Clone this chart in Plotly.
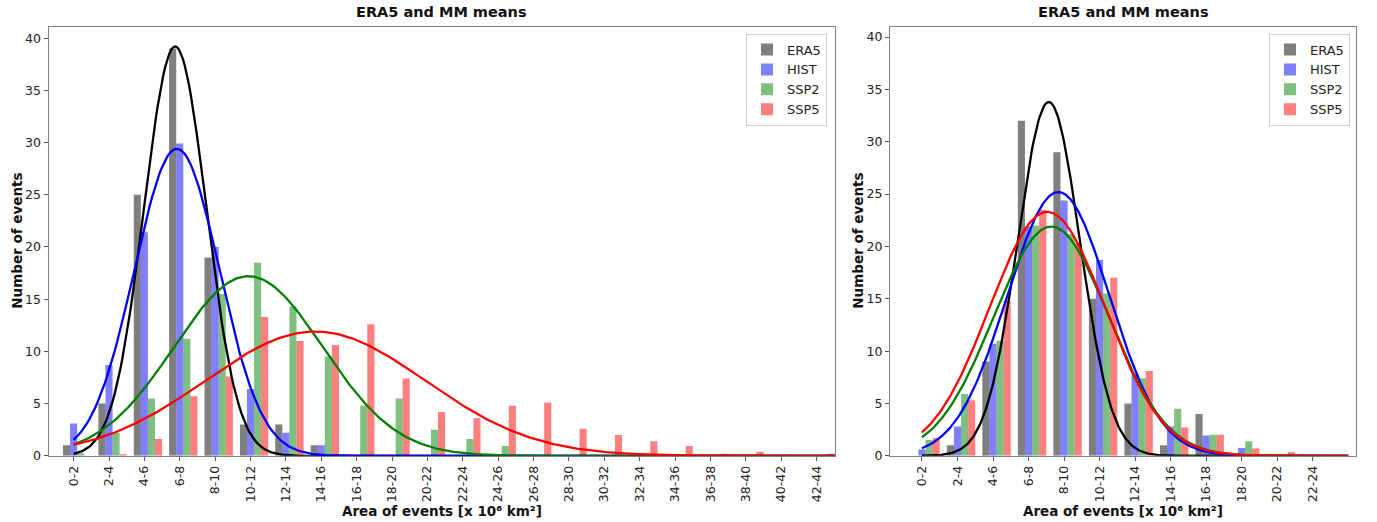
import numpy as np
import plotly.graph_objects as go

# ---------------- data ----------------
cats_left = ['0-2', '2-4', '4-6', '6-8', '8-10', '10-12', '12-14', '14-16', '16-18', '18-20',
             '20-22', '22-24', '24-26', '26-28', '28-30', '30-32', '32-34', '34-36', '36-38',
             '38-40', '40-42', '42-44']
era5_left = [1, 5, 25, 39, 19, 3, 3, 1, 0, 0, 0, 0, 0, 0, 0, 0, 0, 0, 0, 0, 0, 0]
hist_left = [3.1, 8.7, 21.4, 29.9, 20.0, 6.4, 2.2, 1.0, 0, 0, 0, 0, 0, 0, 0, 0, 0, 0, 0, 0, 0, 0]
ssp2_left = [0.25, 2.2, 5.5, 11.2, 15.5, 18.5, 14.3, 9.5, 4.8, 5.5, 2.5, 1.6, 0.95, 0, 0, 0, 0, 0,
             0, 0, 0, 0]
ssp5_left = [0, 0.15, 1.6, 5.7, 7.6, 13.3, 11.0, 10.6, 12.6, 7.4, 4.2, 3.6, 4.8, 5.1, 2.6, 2.0,
             1.4, 0.95, 0.2, 0.4, 0.05, 0.2]

cats_right = ['0-2', '2-4', '4-6', '6-8', '8-10', '10-12', '12-14', '14-16', '16-18', '18-20',
              '20-22', '22-24']
era5_right = [0, 1, 9, 32, 29, 15, 5, 1, 4, 0, 0, 0]
hist_right = [0.6, 2.8, 10.7, 21.9, 24.4, 18.7, 7.8, 2.8, 1.95, 0.75, 0, 0]
ssp2_right = [1.5, 5.9, 11.0, 22.0, 21.2, 15.5, 7.4, 4.5, 2.0, 1.4, 0, 0]
ssp5_right = [1.7, 5.3, 14.8, 23.5, 20.3, 17.0, 8.1, 2.7, 2.0, 0.7, 0.37, 0]

# fitted normal curves: (peak, mean [bin index], std [bins])
fit_left = {'ERA5': (39.2, 2.87, 0.88), 'HIST': (29.4, 2.92, 1.2),
            'SSP2': (17.2, 4.94, 2.1), 'SSP5': (11.9, 6.83, 3.1)}
fit_right = {'ERA5': (33.8, 3.57, 0.88), 'HIST': (25.2, 3.84, 1.44),
             'SSP2': (21.9, 3.64, 1.62), 'SSP5': (23.3, 3.53, 1.63)}

series_names = ['ERA5', 'HIST', 'SSP2', 'SSP5']
bar_colors = {'ERA5': 'rgba(0,0,0,0.5)', 'HIST': 'rgba(0,0,255,0.5)',
              'SSP2': 'rgba(0,128,0,0.5)', 'SSP5': 'rgba(255,0,0,0.5)'}
line_colors = {'ERA5': 'black', 'HIST': 'blue', 'SSP2': 'green', 'SSP5': 'red'}
offsets = {'ERA5': -0.2, 'HIST': 0.0, 'SSP2': 0.2, 'SSP5': 0.4}

FONT = 'DejaVu Sans'
W, H = 1377, 522

fig = go.Figure()


def add_panel(cats, data, fit, xa, ya, legend, curve_end):
    idx = np.arange(len(cats))
    for name in series_names:
        fig.add_trace(go.Bar(
            x=idx + offsets[name], y=data[name], width=0.2, name=name,
            marker=dict(color=bar_colors[name], line=dict(width=0)),
            xaxis=xa, yaxis=ya, legend=legend, showlegend=True))
    xs = np.linspace(0, curve_end, 400)
    for name in series_names:
        a, mu, sd = fit[name]
        fig.add_trace(go.Scatter(
            x=xs, y=a * np.exp(-0.5 * ((xs - mu) / sd) ** 2), mode='lines',
            line=dict(color=line_colors[name], width=2.3),
            xaxis=xa, yaxis=ya, showlegend=False, hoverinfo='skip'))


add_panel(cats_left, {'ERA5': era5_left, 'HIST': hist_left, 'SSP2': ssp2_left, 'SSP5': ssp5_left},
          fit_left, 'x', 'y', 'legend', 22)
add_panel(cats_right, {'ERA5': era5_right, 'HIST': hist_right, 'SSP2': ssp2_right, 'SSP5': ssp5_right},
          fit_right, 'x2', 'y2', 'legend2', 12)

# layout geometry (pixels -> paper)
L1, R1 = 48.5, 835
L2, R2 = 890, 1356
TOP, BOT = 27, 462

axis_common = dict(showline=True, mirror=True, linecolor='#808080', linewidth=1,
                   showgrid=False, zeroline=False, ticks='outside', ticklen=4,
                   tickcolor='#555', tickfont=dict(family=FONT, size=12.5, color='#222'))

fig.update_layout(
    width=W, height=H, margin=dict(l=0, r=0, t=0, b=0),
    paper_bgcolor='white', plot_bgcolor='white', barmode='overlay',
    font=dict(family=FONT, color='#222'),
    xaxis=dict(domain=[L1 / W, R1 / W], range=[-0.71, 21.52], tickmode='array',
               tickvals=list(range(len(cats_left))), ticktext=cats_left, tickangle=-90,
               anchor='y', **axis_common),
    yaxis=dict(domain=[1 - BOT / H, 1 - TOP / H], range=[0, 41.1], tickmode='linear',
               tick0=0, dtick=5, anchor='x', **axis_common),
    xaxis2=dict(domain=[L2 / W, R2 / W], range=[-0.9, 12.22], tickmode='array',
                tickvals=list(range(len(cats_right))), ticktext=cats_right, tickangle=-90,
                anchor='y2', **axis_common),
    yaxis2=dict(domain=[1 - BOT / H, 1 - TOP / H], range=[0, 41.0], tickmode='linear',
                tick0=0, dtick=5, anchor='x2', **axis_common),
    legend=dict(x=827 / W, y=1 - 34 / H, xanchor='right', yanchor='top',
                bgcolor='rgba(255,255,255,0.85)', bordercolor='#d0d0d0', borderwidth=1,
                font=dict(family=FONT, size=13, color='#222'), tracegroupgap=0),
    legend2=dict(x=1350 / W, y=1 - 34 / H, xanchor='right', yanchor='top',
                 bgcolor='rgba(255,255,255,0.85)', bordercolor='#d0d0d0', borderwidth=1,
                 font=dict(family=FONT, size=13, color='#222'), tracegroupgap=0),
)

annots = []
for (l, r, ylab_x) in [(L1, R1, 17), (L2, R2, 858)]:
    cx = (l + r) / 2 / W
    annots.append(dict(text='ERA5 and MM means', x=cx, y=1 - 12 / H, xref='paper', yref='paper',
                       showarrow=False, xanchor='center', yanchor='middle',
                       font=dict(family=FONT, size=14.5, color='#111', weight='bold')))
    annots.append(dict(text='Area of events [x 10⁶ km²]', x=cx, y=1 - 518 / H, xref='paper',
                       yref='paper', showarrow=False, xanchor='center', yanchor='middle',
                       font=dict(family=FONT, size=13.5, color='#111', weight='bold')))
    annots.append(dict(text='Number of events', x=ylab_x / W, y=1 - 244 / H, xref='paper',
                       yref='paper', showarrow=False, xanchor='center', yanchor='middle',
                       textangle=-90,
                       font=dict(family=FONT, size=13.5, color='#111', weight='bold')))
fig.update_layout(annotations=annots)

fig.write_html('out.html')
